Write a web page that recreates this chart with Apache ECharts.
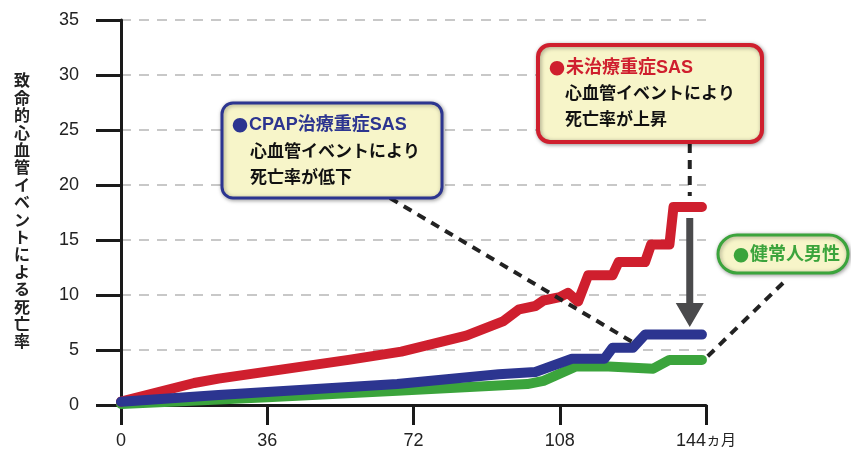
<!DOCTYPE html>
<html><head><meta charset="utf-8">
<script src="https://cdn.jsdelivr.net/npm/echarts@6/dist/echarts.min.js"></script>
<style>html,body{margin:0;padding:0;background:#fff}#c{width:851px;height:452px}</style>
</head><body><div id="c"></div>
<script>
// ---- data ----
const xTicks = [0, 36, 72, 108, 144];
const yTicks = [0, 5, 10, 15, 20, 25, 30, 35];
const yAxisTitle = '致命的心血管イベントによる死亡率';
const xUnit = 'ヵ月';

const redMonths = [0, 18, 24, 56, 69, 85, 94, 98, 102, 104, 108, 110, 112.5, 115, 121, 122.5, 129, 130.5, 135, 136, 143];
const redValues = [0.3, 2.0, 2.4, 4.1, 4.85, 6.3, 7.6, 8.7, 9.0, 9.5, 9.8, 10.2, 9.4, 11.8, 11.8, 13.0, 13.0, 14.6, 14.6, 18.0, 18.0];

const blueMonths = [0, 24, 68, 93, 102, 111, 119, 121, 126, 129, 143];
const blueValues = [0.3, 0.9, 1.9, 2.8, 3.0, 4.2, 4.2, 5.2, 5.2, 6.4, 6.4];

const greenMonths = [0, 36, 68, 100, 104, 112, 120, 131, 135, 143];
const greenValues = [0.1, 0.7, 1.3, 1.9, 2.2, 3.5, 3.5, 3.3, 4.1, 4.1];

const blueNote = ['CPAP治療重症SAS', '心血管イベントにより', '死亡率が低下'];
const redNote = ['未治療重症SAS', '心血管イベントにより', '死亡率が上昇'];
const greenNote = ['健常人男性'];
const bullet = '●';

// ---- chart ----
const RED = '#cf1f2e', BLUE = '#2c3590', GREEN = '#3ba43c', INK = '#1a1a1a';
const LATIN = '"Liberation Sans", Arial, "Noto Sans CJK JP", sans-serif';
const CJK = '"Liberation Sans", "Noto Sans CJK JP", sans-serif';
const pair = (xs, ys) => xs.map((x, i) => [x, ys[i]]);

const chart = echarts.init(document.getElementById('c'), null, {renderer: 'canvas'});

const lineSeries = (data, color) => ({
  type: 'line', data, symbol: 'none', silent: true,
  lineStyle: {color, width: 10, cap: 'round', join: 'round'}
});

chart.setOption({
  animation: false,
  backgroundColor: '#fff',
  grid: {left: 121, right: 145, top: 20, bottom: 47, outerBoundsMode: 'none'},
  xAxis: {
    type: 'value', min: xTicks[0], max: xTicks[xTicks.length - 1], interval: xTicks[1] - xTicks[0],
    axisLine: {show: true, lineStyle: {color: INK, width: 3}},
    axisTick: {show: true, length: 20, lineStyle: {color: INK, width: 3}},
    axisLabel: {
      margin: 27, fontSize: 18, color: '#222', fontFamily: LATIN,
      formatter: v => v === xTicks[xTicks.length - 1] ? v + '{u|' + xUnit + '}' : String(v),
      rich: {u: {fontSize: 15, fontFamily: CJK, color: '#222'}}
    },
    splitLine: {show: false}
  },
  yAxis: {
    type: 'value', min: yTicks[0], max: yTicks[yTicks.length - 1], interval: yTicks[1] - yTicks[0],
    axisLine: {show: true, lineStyle: {color: INK, width: 3}},
    axisTick: {show: true, length: 25, lineStyle: {color: INK, width: 3}},
    axisLabel: {margin: 42, fontSize: 18, color: '#222', fontFamily: LATIN},
    splitLine: {show: true, lineStyle: {color: '#c8c8c8', width: 2, type: [10, 8]}},
    name: yAxisTitle.split('').join('\n'),
    nameLocation: 'middle', nameRotate: 0, nameGap: 99,
    nameTextStyle: {fontSize: 16, lineHeight: 17.4, fontWeight: 'bold', color: '#222', fontFamily: CJK, align: 'center', verticalAlign: 'middle'}
  },
  series: [
    lineSeries(pair(greenMonths, greenValues), GREEN),
    lineSeries(pair(redMonths, redValues), RED),
    lineSeries(pair(blueMonths, blueValues), BLUE)
  ]
});

// ---- annotations ----
const px = (x, y) => chart.convertToPixel({gridIndex: 0}, [x, y]);
const FILL = '#f7f5c9';
const shadow = {shadowBlur: 4, shadowColor: 'rgba(0,0,0,0.35)', shadowOffsetX: 1, shadowOffsetY: 1};
const dash = {stroke: '#222', lineWidth: 4, lineDash: [9, 7], lineCap: 'butt'};

function box(x, y, w, h, r, stroke, lw) {
  return {type: 'rect', z: 100, shape: {x, y, width: w, height: h, r},
    style: Object.assign({fill: FILL, stroke, lineWidth: lw}, shadow)};
}
function txt(x, y, text, color, size) {
  return {type: 'text', z: 101, style: {x, y, text, fill: color,
    font: 'bold ' + size + 'px ' + CJK, verticalAlign: 'middle', align: 'left'}};
}
function head(x, y, text, color, size) {
  return {type: 'text', z: 101, style: {x, y, text: '{d|' + bullet + '}{t|' + text + '}',
    verticalAlign: 'middle', align: 'left',
    rich: {
      d: {fontFamily: '"Noto Sans CJK JP", sans-serif', fontSize: size - 2, fontWeight: 'bold', fill: color, padding: [0, 1, 0, 0]},
      t: {fontFamily: CJK, fontSize: size, fontWeight: 'bold', fill: color}
    }}};
}

const blueEnd = px(126, 5.7);
const arrowX = px(140, 0)[0];
const arrowTop = px(140, 17.0)[1];
const arrowTip = px(140, 7.1)[1];
const redDashEnd = px(140, 19.0)[1];
const greenEnd = px(143.5, 4.1);
const hw = 3.5, hh = 14, headH = 24;

chart.setOption({
  graphic: [
    {type: 'line', z: 90, shape: {x1: 390, y1: 198, x2: blueEnd[0], y2: blueEnd[1]}, style: dash},
    {type: 'line', z: 90, shape: {x1: arrowX, y1: 144, x2: arrowX, y2: redDashEnd}, style: dash},
    {type: 'line', z: 90, shape: {x1: 783, y1: 283, x2: greenEnd[0], y2: greenEnd[1]}, style: dash},
    {type: 'polygon', z: 90, shape: {points: [
      [arrowX - hw, arrowTop], [arrowX + hw, arrowTop], [arrowX + hw, arrowTip - headH],
      [arrowX + hh, arrowTip - headH], [arrowX, arrowTip], [arrowX - hh, arrowTip - headH],
      [arrowX - hw, arrowTip - headH]]}, style: {fill: '#4a4a4c'}},
    box(222, 103, 220, 95, 11, BLUE, 3),
    head(232, 125, blueNote[0], BLUE, 18),
    txt(250, 152, blueNote[1], '#111', 17),
    txt(250, 178, blueNote[2], '#111', 17),
    box(538, 45, 224, 97, 12, RED, 4),
    head(549, 68, redNote[0], RED, 18),
    txt(565, 94, redNote[1], '#111', 17),
    txt(565, 120, redNote[2], '#111', 17),
    box(718, 235, 130, 38, 19, GREEN, 3),
    head(733, 255, greenNote[0], GREEN, 18)
  ]
});
</script>
</body></html>
